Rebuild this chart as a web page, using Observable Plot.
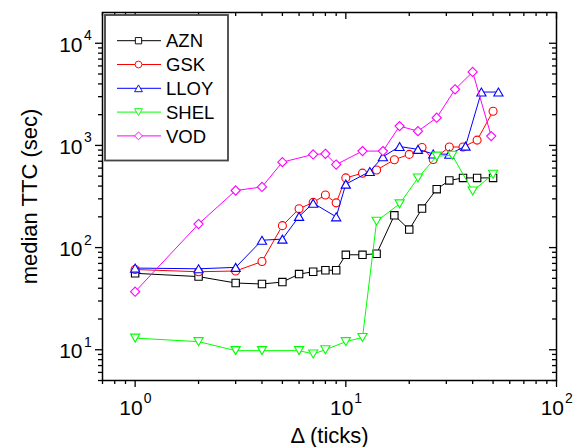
<!DOCTYPE html>
<html><head><meta charset="utf-8">
<script src="https://cdn.jsdelivr.net/npm/d3@7"></script>
<script src="https://cdn.jsdelivr.net/npm/@observablehq/plot@0.6"></script>
<style>body{margin:0;background:#fff} #chart{position:relative;width:574px;height:447px}</style>
</head><body><div id="chart"></div>
<script>
// ---- data ----
const seriesNames = ["AZN", "GSK", "LLOY", "SHEL", "VOD"];
const seriesColors = ["#000000", "#ff0000", "#0000ff", "#00ff00", "#ff00ff"];

const aznX = [1, 2, 3, 4, 5, 6, 7, 8, 9, 10, 12, 14, 17, 20, 23, 27, 31, 36, 42, 50];
const aznY = [56, 52, 45, 44, 46, 55, 58, 60, 60, 85, 85, 87, 207, 150, 241, 373, 454, 481, 481, 481];

const gskX = [1, 2, 3, 4, 5, 6, 7, 8, 9, 10, 12, 14, 17, 20, 23, 26, 31, 36, 42, 50];
const gskY = [61, 58, 59, 73, 164, 240, 277, 327, 274, 481, 535, 575, 725, 817, 955, 729, 965, 965, 1127, 2160];

const lloyX = [1, 2, 3, 4, 5, 6, 7, 9, 10, 13, 15, 18, 22, 26, 31, 37, 44, 53];
const lloyY = [63, 62, 64, 118, 121, 202, 272, 200, 418, 555, 775, 975, 915, 825, 820, 984, 3330, 3330];

const shelX = [1, 2, 3, 4, 6, 7, 8, 10, 12, 14, 18, 22, 27, 32, 40, 50];
const shelY = [13, 12, 9.8, 9.8, 9.8, 9.1, 10, 12, 13.2, 181, 268, 480, 785, 800, 358, 522];

const vodX = [1, 2, 3, 4, 5, 7, 8, 9, 12, 15, 18, 22, 27, 33, 40, 49];
const vodY = [37, 170, 362, 392, 686, 816, 828, 650, 880, 880, 1545, 1380, 1866, 3540, 5240, 1233];

const xMajor = [1, 10, 100];
const yMajor = [10, 100, 1000, 10000];

// ---- build ----
const allX = [aznX, gskX, lloyX, shelX, vodX];
const allY = [aznY, gskY, lloyY, shelY, vodY];

function sym(fn) { return {draw(c) { fn(c); }}; }
const symbols = [
  sym(c => { const s = 3.7; c.moveTo(-s, -s); c.lineTo(s, -s); c.lineTo(s, s); c.lineTo(-s, s); c.closePath(); }),
  sym(c => { const r = 4; c.moveTo(r, 0); c.arc(0, 0, r, 0, 2 * Math.PI); c.closePath(); }),
  sym(c => { const w = 4.6, h = 4; c.moveTo(0, -h); c.lineTo(w, h); c.lineTo(-w, h); c.closePath(); }),
  sym(c => { const w = 4.6, h = 4; c.moveTo(0, h); c.lineTo(w, -h); c.lineTo(-w, -h); c.closePath(); }),
  sym(c => { const d = 4.6; c.moveTo(0, -d); c.lineTo(d, 0); c.lineTo(0, d); c.lineTo(-d, 0); c.closePath(); })
];

const W = 574, H = 447, mL = 102, mR = 18, mT = 12, mB = 67;
const pW = W - mL - mR, pH = H - mT - mB;

const xDomain = [0.7, 100];
const yDomain = [5, 20000];
function minors(lo, hi) {
  const out = [];
  for (let e = -1; e <= 5; e++) for (let m = 2; m <= 9; m++) {
    const v = m * Math.pow(10, e);
    if (v >= lo && v <= hi) out.push(v);
  }
  return out;
}
const xMinor = minors(xDomain[0], xDomain[1]);
const yMinor = minors(yDomain[0], yDomain[1]).filter(v => v < yDomain[1]);

const marks = [];
seriesNames.forEach((name, i) => {
  const rows = allX[i].map((x, j) => ({series: name, x, y: allY[i][j]}));
  marks.push(Plot.line(rows, {x: "x", y: "y", stroke: seriesColors[i], strokeWidth: 1}));
  marks.push(Plot.dot(rows, {x: "x", y: "y", symbol: () => symbols[i], r: 4, stroke: seriesColors[i], fill: "white", strokeWidth: 1.1}));
});

const tickW = 1.3;
const axes = [
  Plot.axisX({ticks: xMinor, tickSize: 4, tickFormat: () => "", label: null, strokeWidth: tickW}),
  Plot.axisX({ticks: xMajor, tickSize: 7, tickFormat: () => "", label: null, strokeWidth: tickW}),
  Plot.axisY({ticks: yMinor, tickSize: 4, tickFormat: () => "", label: null, strokeWidth: tickW}),
  Plot.axisY({ticks: yMajor, tickSize: 7, tickFormat: () => "", label: null, strokeWidth: tickW}),
  // inward ticks on top and right
  Plot.ruleX(xMinor, {x: d => d, insetBottom: pH - 4, strokeWidth: tickW}),
  Plot.ruleX(xMajor, {x: d => d, insetBottom: pH - 7, strokeWidth: tickW}),
  Plot.ruleY(yMinor, {y: d => d, insetLeft: pW - 4, strokeWidth: tickW}),
  Plot.ruleY(yMajor, {y: d => d, insetLeft: pW - 7, strokeWidth: tickW}),
  // tick labels 10^n
  Plot.text(xMajor, {x: d => d, frameAnchor: "bottom", text: () => "10", textAnchor: "end", lineAnchor: "bottom", dx: 7.5, dy: 34, fontSize: 21}),
  Plot.text(xMajor, {x: d => d, frameAnchor: "bottom", text: d => String(Math.round(Math.log10(d))), textAnchor: "start", lineAnchor: "bottom", dx: 8.5, dy: 22.5, fontSize: 14}),
  Plot.text(yMajor, {y: d => d, frameAnchor: "left", text: () => "10", textAnchor: "end", lineAnchor: "bottom", dx: -20, dy: 8.5, fontSize: 21}),
  Plot.text(yMajor, {y: d => d, frameAnchor: "left", text: d => String(Math.round(Math.log10(d))), textAnchor: "start", lineAnchor: "bottom", dx: -18.5, dy: -3, fontSize: 14}),
  // axis titles
  Plot.text(["Δ (ticks)"], {frameAnchor: "bottom", text: d => d, textAnchor: "middle", lineAnchor: "bottom", dy: 62, fontSize: 22}),
  Plot.text(["median TTC (sec)"], {frameAnchor: "left", text: d => d, textAnchor: "middle", rotate: -90, dx: -73, fontSize: 22}),
  Plot.frame({stroke: "#000", strokeWidth: 1.5})
];

const chart = Plot.plot({
  width: W, height: H,
  marginLeft: mL, marginRight: mR, marginTop: mT, marginBottom: mB,
  style: {fontFamily: "'Liberation Sans', Arial, sans-serif", background: "white", color: "black", overflow: "visible"},
  x: {type: "log", domain: xDomain},
  y: {type: "log", domain: yDomain},
  marks: [...marks, ...axes]
});
document.getElementById("chart").appendChild(chart);

// ---- legend ----
const svg = d3.select(chart);
const lg = svg.append("g").attr("font-family", "'Liberation Sans', Arial, sans-serif").attr("text-anchor", "start");
lg.append("rect").attr("x", 105).attr("y", 15).attr("width", 123).attr("height", 145.5)
  .attr("fill", "white").attr("stroke", "#444").attr("stroke-width", 1.8);
seriesNames.forEach((name, i) => {
  const y = 40.7 + i * 23.8;
  lg.append("line").attr("x1", 117).attr("x2", 161).attr("y1", y).attr("y2", y)
    .attr("stroke", seriesColors[i]).attr("stroke-width", 1);
  lg.append("path").attr("d", d3.symbol(symbols[i])()).attr("transform", `translate(138.5,${y}) scale(0.85)`)
    .attr("fill", "white").attr("stroke", seriesColors[i]).attr("stroke-width", 1.1);
  lg.append("text").attr("x", 166).attr("y", y).attr("dy", "0.36em").attr("text-anchor", "start")
    .attr("font-size", 18.5).attr("fill", "black").text(name);
});
</script>
</body></html>
